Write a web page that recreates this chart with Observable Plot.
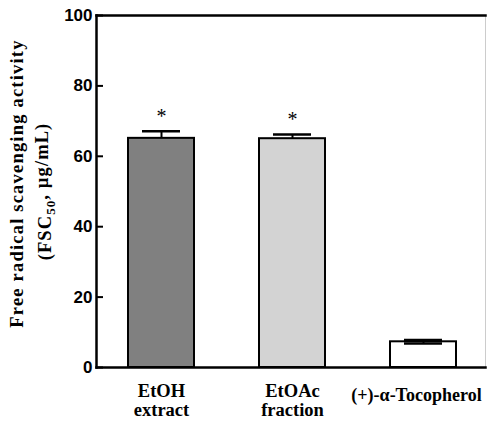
<!DOCTYPE html>
<html><head><meta charset="utf-8">
<script src="https://cdn.jsdelivr.net/npm/d3@7"></script>
<script src="https://cdn.jsdelivr.net/npm/@observablehq/plot@0.6"></script>
<style>body{margin:0;background:#fff}</style>
</head><body><div id="chart"></div>
<script>
const categories = ["EtOH extract", "EtOAc fraction", "(+)-α-Tocopherol"];
const labelLines = [["EtOH", "extract"], ["EtOAc", "fraction"], ["(+)-α-Tocopherol"]];
const values = [65.1, 65.0, 7.3];
const errors = [2.0, 1.2, 0.5];
const errorBothWays = [false, false, true];
const significant = [true, true, false];
const fills = ["#808080", "#d3d3d3", "#ffffff"];
const yTicks = [0, 20, 40, 60, 80, 100];
const yTitleLine1 = "Free radical scavenging activity";
const yTitleLine2 = ["(FSC", "50", ", µg/mL)"];

const data = categories.map((c, i) => ({
  cat: c, value: values[i], err: errors[i], both: errorBothWays[i], sig: significant[i], fill: fills[i]
}));
const labelOf = c => labelLines[categories.indexOf(c)].join("\n");
const serif = "'Liberation Serif', 'Times New Roman', serif";
const sans = "'Liberation Sans', Arial, sans-serif";

const chart = Plot.plot({
  width: 487, height: 421,
  marginLeft: 96, marginRight: 2, marginTop: 15, marginBottom: 54,
  style: {background: "#fff", overflow: "visible"},
  x: {domain: categories, range: [95, 488], padding: 0.5, paddingOuter: 0.25, axis: null},
  y: {domain: [0, 100], axis: null},
  marks: [
    Plot.barY(data, {x: "cat", y: "value", fill: "fill", stroke: "black", strokeWidth: 2}),
    Plot.ruleX(data, {x: "cat", y1: d => d.both ? d.value - d.err : d.value, y2: d => d.value + d.err, stroke: "black", strokeWidth: 2}),
    Plot.tickY(data, {x: "cat", y: d => d.value + d.err, stroke: "black", strokeWidth: 2.5, insetLeft: 14, insetRight: 14}),
    Plot.tickY(data.filter(d => d.both), {x: "cat", y: d => d.value - d.err, stroke: "black", strokeWidth: 2.5, insetLeft: 14, insetRight: 14}),
    Plot.text(data.filter(d => d.sig), {x: "cat", y: d => d.value + d.err, text: () => "*", dy: -15, fontSize: 20, fontFamily: serif, fill: "black"}),
    Plot.frame({anchor: "right", stroke: "#cccccc", strokeWidth: 1}),
    Plot.frame({anchor: "top", stroke: "black", strokeWidth: 2.5}),
    Plot.frame({anchor: "bottom", stroke: "black", strokeWidth: 2.5}),
    Plot.frame({anchor: "left", stroke: "black", strokeWidth: 2.5}),
    Plot.axisY({ticks: yTicks, tickFormat: () => "", tickSize: 7, dx: 7, strokeWidth: 2, label: null}),
    Plot.axisY({ticks: yTicks, tickSize: 0, tickPadding: 4, fontSize: 17, fontWeight: "bold", fontFamily: sans, fill: "black", label: null}),
    Plot.axisX({ticks: categories.slice(0, 2), tickSize: 0, tickPadding: 16, tickFormat: labelOf, fontSize: 18.5, fontWeight: "bold", fontFamily: serif, lineHeight: 1.03, fill: "black", label: null}),
    Plot.axisX({ticks: categories.slice(2), tickSize: 0, tickPadding: 21, dx: -7, tickFormat: labelOf, fontSize: 18, fontWeight: "bold", fontFamily: serif, fill: "black", label: null}),
    Plot.text([yTitleLine1], {frameAnchor: "left", textAnchor: "middle", dx: -79, dy: -8, rotate: -90, text: d => d, fontSize: 18.5, fontWeight: "bold", fontFamily: serif, fill: "black"}),
    Plot.text([yTitleLine2.join("")], {frameAnchor: "left", textAnchor: "middle", dx: -51, dy: 0, rotate: -90, text: d => d, fontSize: 18.5, fontWeight: "bold", fontFamily: serif, fill: "black"})
  ]
});
document.getElementById("chart").append(chart);

const texts = d3.select(chart).selectAll("text");
// letter spacing for the first title line
texts.filter(function() { return this.textContent === yTitleLine1; }).style("letter-spacing", "1.2px");
// subscript "50" in the second title line
texts.filter(function() { return this.textContent === yTitleLine2.join(""); }).each(function() {
  const t = d3.select(this);
  t.style("letter-spacing", "1.1px");
  t.text(null);
  t.append("tspan").text(yTitleLine2[0]);
  t.append("tspan").attr("dy", "0.3em").attr("font-size", "13px").text(yTitleLine2[1]);
  t.append("tspan").attr("dy", "-0.42em").text(yTitleLine2[2]);
});
</script></body></html>
